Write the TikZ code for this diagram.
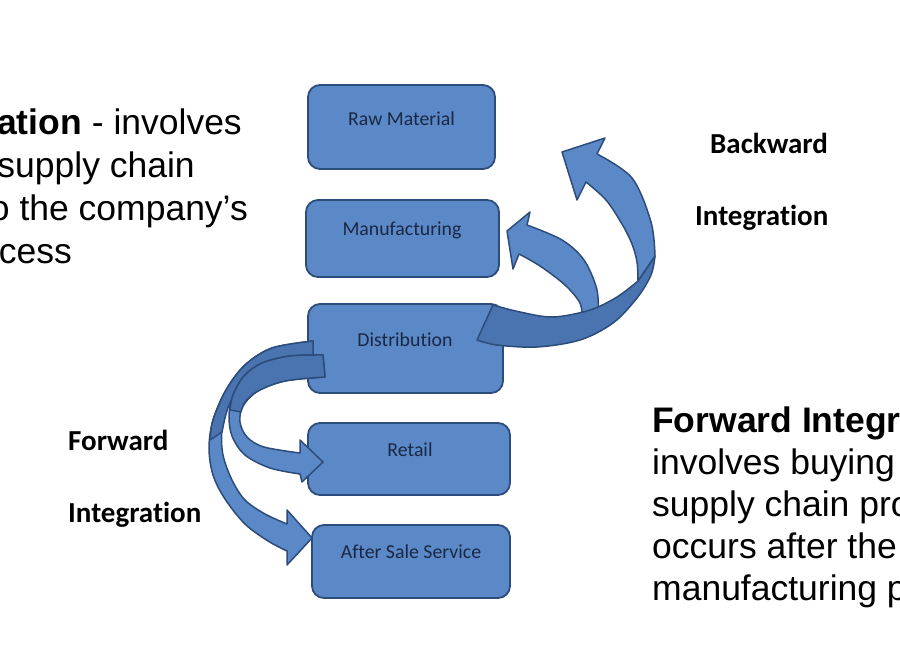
\documentclass[tikz,border=0pt]{standalone}
\usepackage{fontspec}
\setmainfont{Liberation Sans}
\newfontfamily\calibri[Ligatures=NoCommon]{Carlito}
\definecolor{boxc}{HTML}{5B88C6}
\definecolor{backc}{HTML}{4A74B0}
\definecolor{edgec}{HTML}{2C4C7C}
\definecolor{txtc}{HTML}{1A2844}
\begin{document}
\begin{tikzpicture}[x=1pt,y=-1pt,
  box/.style={draw=edgec, line width=1.8pt, fill=boxc, rounded corners=12pt, inner sep=0pt},
  boxtext/.style={font=\calibri\fontsize{19.8}{22}\selectfont, text=txtc, anchor=base, inner sep=0pt},
  lbl/.style={font=\calibri\bfseries\fontsize{29}{34}\selectfont, anchor=base west, inner sep=0pt},
  para/.style={font=\fontsize{35.5}{42}\selectfont, inner sep=0pt},
  front/.style={fill=boxc, draw=edgec, line width=1.5pt, line join=round},
  back/.style={fill=backc, draw=edgec, line width=1.5pt, line join=round},
  sm/.style={smooth, tension=0.55}]
\useasboundingbox (0,0) rectangle (900,656);
\clip (0,0) rectangle (900,656);

% boxes
\node[box, minimum width=187pt, minimum height=84pt] (raw) at (401.5,127) {};
\node[box, minimum width=193pt, minimum height=77pt] (man) at (402.5,238.5) {};
\node[box, minimum width=195pt, minimum height=89pt] (dis) at (405.5,348.5) {};
\node[box, minimum width=202pt, minimum height=72pt] (ret) at (409,459) {};
\node[box, minimum width=198pt, minimum height=73pt] (aft) at (411,561.5) {};

\node[boxtext] (rawt) at (401.5,125.5) {Raw Material};
\node[boxtext] (mant) at (402,235.5) {Manufacturing};
\node[boxtext] (dist) at (405,346.5) {Distribution};
\node[boxtext] (rett) at (410,456.5) {Retail};
\node[boxtext] (aftt) at (411,558.5) {After Sale Service};

% backward small arrow (to Manufacturing)
\path[front] plot[sm] coordinates {(527,225) (562,240) (584,260) (597,290) (598,318)}
  -- plot[sm] coordinates {(582,318) (580,303) (565,285) (540,266) (519,254)}
  -- (513,269) -- (507,231) -- (530,212) -- cycle;

% backward big arrow: back band
\path[back] plot[sm] coordinates {(477,340) (497,345) (537,347) (580,340) (613,323) (637,298) (651,275) (655,256)}
  -- plot[sm] coordinates {(638,281) (617,297) (590,310) (553,317) (520,312) (493,305)}
  -- cycle;
% backward big arrow: front band with head
\path[front] plot[sm] coordinates {(597,154) (632,178) (651,222) (655,256)}
  -- plot[sm] coordinates {(638,281) (637,262) (632,244) (622,224) (606,200) (586,182)}
  -- (577,200) -- (562,152) -- (605,138) -- cycle;

% forward big arrow (to After Sale Service): whole band
\path[front] plot[sm] coordinates {(313,341) (272,348) (245,365) (226,390) (213,420) (209,448) (213,475) (225,499) (245,524) (268,541) (287,551)}
  -- (287,565) -- (312,538) -- (287,510)
  -- plot[sm] coordinates {(287,524) (265,514) (245,500) (232,480) (223,455) (222,430) (229,405) (244,385) (270,368) (313,361)}
  -- cycle;
% its back part
\path[back] plot[sm] coordinates {(313,341) (272,348) (245,365) (226,390) (213,420) (210,440)}
  -- plot[sm] coordinates {(222,432) (229,405) (244,385) (270,368) (313,361)}
  -- cycle;

% forward small arrow (to Retail): whole band
\path[front] plot[sm] coordinates {(323,355) (290,356) (262,363) (244,376) (233,395) (229,415) (232,436) (245,455) (270,468) (300,474)}
  -- (302,482) -- (323,462) -- (300,440)
  -- plot[sm] coordinates {(300,453) (264,447) (247,437) (240,422) (243,406) (258,391) (285,381) (325,377)}
  -- cycle;
% its back part
\path[back] plot[sm] coordinates {(323,355) (290,356) (262,363) (244,376) (233,395) (230,410)}
  -- plot[sm] coordinates {(241,412) (245,402) (258,391) (285,381) (325,377)}
  -- cycle;

% labels
\node[lbl] (bw) at (710,153) {Backward};
\node[lbl] (bi) at (695,225) {Integration};
\node[lbl] (fw) at (68,450) {Forward};
\node[lbl] (fi) at (68,522) {Integration};

% left paragraph (cut by the left edge)
\node[para, anchor=base west] (l1) at (-3,134) {\textbf{ation} - involves};
\node[para, anchor=base east] (l2) at (195,177) {supply chain};
\node[para, anchor=base east] (l3) at (248,220) {o the company’s};
\node[para, anchor=base east] (l4) at (72,263) {cess};

% right paragraph (cut by the right edge)
\node[para, anchor=base west] (r1) at (652,432) {\textbf{Forward Integr}};
\node[para, anchor=base west] (r2) at (652,474) {involves buying};
\node[para, anchor=base west] (r3) at (652,516) {supply chain pro};
\node[para, anchor=base west] (r4) at (652,558) {occurs after the};
\node[para, anchor=base west] (r5) at (652,600) {manufacturing p};
\end{tikzpicture}
\end{document}
